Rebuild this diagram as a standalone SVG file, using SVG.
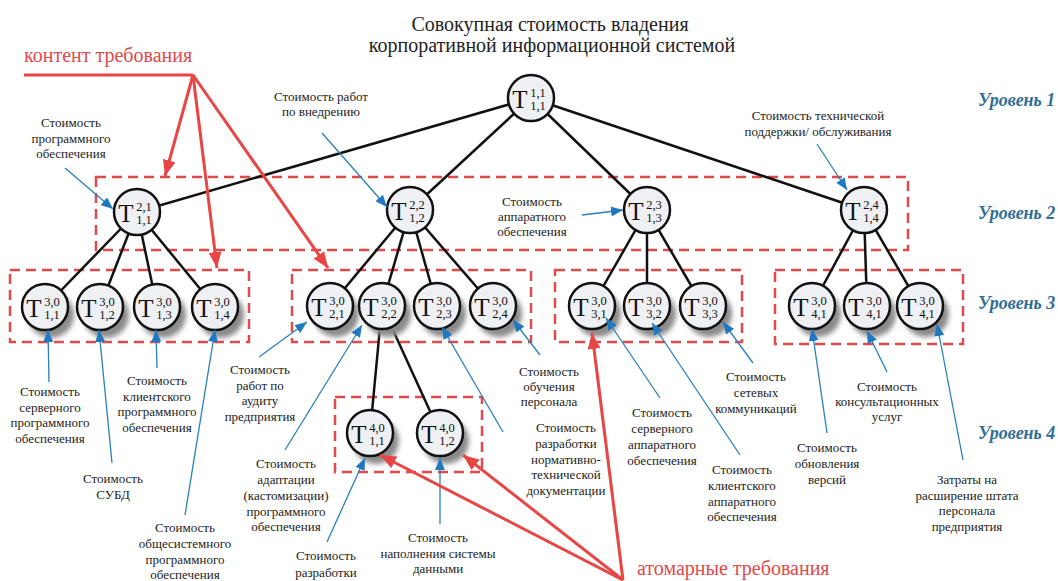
<svg xmlns="http://www.w3.org/2000/svg" width="1058" height="581" viewBox="0 0 1058 581">
  <style>
    .title { font-family: "Liberation Serif", "DejaVu Serif", serif; font-size: 20px; fill: #222; text-anchor: middle; }
    .lbl { font-family: "Liberation Serif", "DejaVu Serif", serif; font-size: 13px; fill: #222; text-anchor: middle; }
    .lvl { font-family: "Liberation Serif", "DejaVu Serif", serif; font-size: 18px; font-weight: bold; font-style: italic; fill: #2f6e98; }
    .note { font-family: "Liberation Serif", "DejaVu Serif", serif; font-size: 20px; fill: #e04a4a; }
    .node circle.c { fill: #eff0f3; stroke: #111; stroke-width: 2.5; }
    .node circle.sh { fill: #8a8a8a; filter: url(#blur); }
    .tt { font-family: "Liberation Serif", "DejaVu Serif", serif; font-size: 25px; fill: #111; text-anchor: middle; }
    .ix { font-family: "Liberation Serif", "DejaVu Serif", serif; font-size: 12.5px; fill: #111; text-anchor: middle; }
    .edge { stroke: #111; stroke-width: 2.5; fill: none; }
    .box { fill: none; stroke: #e04a4a; stroke-width: 2.5; stroke-dasharray: 10 6; }
    .blue { stroke: #2a80b9; stroke-width: 1.3; fill: none; marker-end: url(#ab); }
    .red { stroke: #e84545; stroke-width: 3; fill: none; marker-end: url(#ar); }
  </style>
  <defs>
    <filter id="blur" x="-30%" y="-30%" width="160%" height="160%">
      <feGaussianBlur stdDeviation="2.5"/>
    </filter>
    <marker id="ab" viewBox="0 0 12 10" refX="12" refY="5" markerWidth="12" markerHeight="10" markerUnits="userSpaceOnUse" orient="auto">
      <path d="M0,0 L12,5 L0,10 Z" fill="#1f78c1"/>
    </marker>
    <marker id="ar" viewBox="0 0 16 13" refX="16" refY="6.5" markerWidth="16" markerHeight="13" markerUnits="userSpaceOnUse" orient="auto">
      <path d="M0,0 L16,6.5 L0,13 Z" fill="#e84545"/>
    </marker>
  </defs>

  <rect width="1058" height="581" fill="#ffffff"/>

  <!-- title -->
  <text class="title" x="550" y="31">Совокупная стоимость владения</text>
  <text class="title" x="552" y="52">корпоративной информационной системой</text>

  <!-- level captions -->
  <text class="lvl" x="978" y="106">Уровень 1</text>
  <text class="lvl" x="978" y="219">Уровень 2</text>
  <text class="lvl" x="978" y="309">Уровень 3</text>
  <text class="lvl" x="978" y="439">Уровень 4</text>

  <!-- dashed level frames -->
  <g id="frames">
    <rect class="box" x="96" y="177" width="812" height="73"/>
    <rect class="box" x="10" y="270" width="239" height="72"/>
    <rect class="box" x="292" y="270" width="239" height="72"/>
    <rect class="box" x="555" y="270" width="187" height="72"/>
    <rect class="box" x="775" y="270" width="188" height="74"/>
    <rect class="box" x="335" y="397" width="147" height="75"/>
  </g>

  <!-- tree connectors -->
  <g id="connectors">
    <line class="edge" x1="531" y1="98" x2="137" y2="212"/>
    <line class="edge" x1="531" y1="98" x2="410" y2="210"/>
    <line class="edge" x1="531" y1="98" x2="647" y2="210"/>
    <line class="edge" x1="531" y1="98" x2="864" y2="210"/>
    <line class="edge" x1="137" y1="212" x2="45" y2="307"/>
    <line class="edge" x1="137" y1="212" x2="100" y2="307"/>
    <line class="edge" x1="137" y1="212" x2="157" y2="307"/>
    <line class="edge" x1="137" y1="212" x2="215" y2="307"/>
    <line class="edge" x1="410" y1="210" x2="330" y2="306"/>
    <line class="edge" x1="410" y1="210" x2="382" y2="306"/>
    <line class="edge" x1="410" y1="210" x2="437" y2="306"/>
    <line class="edge" x1="410" y1="210" x2="493" y2="306"/>
    <line class="edge" x1="647" y1="210" x2="592" y2="306"/>
    <line class="edge" x1="647" y1="210" x2="647" y2="306"/>
    <line class="edge" x1="647" y1="210" x2="703" y2="306"/>
    <line class="edge" x1="864" y1="210" x2="812" y2="306"/>
    <line class="edge" x1="864" y1="210" x2="867" y2="306" stroke-width="4"/>
    <line class="edge" x1="864" y1="210" x2="920" y2="306"/>
    <line class="edge" x1="382" y1="306" x2="370" y2="433"/>
    <line class="edge" x1="382" y1="306" x2="440" y2="433"/>
  </g>

  <!-- level 1 -->
  <g id="n-1-1" class="node">
    <circle class="c" cx="531" cy="98" r="23"/>
    <text class="tt" x="520" y="108">T</text>
    <text class="ix" x="538" y="97">1,1</text>
    <text class="ix" x="538" y="110">1,1</text>
  </g>

  <!-- level 2 -->
  <g id="n-2-1" class="node">
    <circle class="c" cx="137" cy="212" r="23"/>
    <text class="tt" x="126" y="222">T</text>
    <text class="ix" x="144" y="211">2,1</text>
    <text class="ix" x="144" y="224">1,1</text>
  </g>
  <g id="n-2-2" class="node">
    <circle class="c" cx="410" cy="210" r="23"/>
    <text class="tt" x="399" y="220">T</text>
    <text class="ix" x="417" y="209">2,2</text>
    <text class="ix" x="417" y="222">1,2</text>
  </g>
  <g id="n-2-3" class="node">
    <circle class="c" cx="647" cy="210" r="23"/>
    <text class="tt" x="636" y="220">T</text>
    <text class="ix" x="654" y="209">2,3</text>
    <text class="ix" x="654" y="222">1,3</text>
  </g>
  <g id="n-2-4" class="node">
    <circle class="c" cx="864" cy="210" r="23"/>
    <text class="tt" x="853" y="220">T</text>
    <text class="ix" x="871" y="209">2,4</text>
    <text class="ix" x="871" y="222">1,4</text>
  </g>

  <!-- level 3 -->
  <g id="n-3-11" class="node">
    <circle class="sh" cx="51" cy="315" r="23"/>
    <circle class="c" cx="45" cy="307" r="23"/>
    <text class="tt" x="34" y="317">T</text>
    <text class="ix" x="52" y="306">3,0</text>
    <text class="ix" x="52" y="319">1,1</text>
  </g>
  <g id="n-3-12" class="node">
    <circle class="sh" cx="106" cy="315" r="23"/>
    <circle class="c" cx="100" cy="307" r="23"/>
    <text class="tt" x="89" y="317">T</text>
    <text class="ix" x="107" y="306">3,0</text>
    <text class="ix" x="107" y="319">1,2</text>
  </g>
  <g id="n-3-13" class="node">
    <circle class="sh" cx="163" cy="315" r="23"/>
    <circle class="c" cx="157" cy="307" r="23"/>
    <text class="tt" x="146" y="317">T</text>
    <text class="ix" x="164" y="306">3,0</text>
    <text class="ix" x="164" y="319">1,3</text>
  </g>
  <g id="n-3-14" class="node">
    <circle class="sh" cx="221" cy="315" r="23"/>
    <circle class="c" cx="215" cy="307" r="23"/>
    <text class="tt" x="204" y="317">T</text>
    <text class="ix" x="222" y="306">3,0</text>
    <text class="ix" x="222" y="319">1,4</text>
  </g>
  <g id="n-3-21" class="node">
    <circle class="sh" cx="336" cy="314" r="23"/>
    <circle class="c" cx="330" cy="306" r="23"/>
    <text class="tt" x="319" y="316">T</text>
    <text class="ix" x="337" y="305">3,0</text>
    <text class="ix" x="337" y="318">2,1</text>
  </g>
  <g id="n-3-22" class="node">
    <circle class="sh" cx="388" cy="314" r="23"/>
    <circle class="c" cx="382" cy="306" r="23"/>
    <text class="tt" x="371" y="316">T</text>
    <text class="ix" x="389" y="305">3,0</text>
    <text class="ix" x="389" y="318">2,2</text>
  </g>
  <g id="n-3-23" class="node">
    <circle class="sh" cx="443" cy="314" r="23"/>
    <circle class="c" cx="437" cy="306" r="23"/>
    <text class="tt" x="426" y="316">T</text>
    <text class="ix" x="444" y="305">3,0</text>
    <text class="ix" x="444" y="318">2,3</text>
  </g>
  <g id="n-3-24" class="node">
    <circle class="sh" cx="499" cy="314" r="23"/>
    <circle class="c" cx="493" cy="306" r="23"/>
    <text class="tt" x="482" y="316">T</text>
    <text class="ix" x="500" y="305">3,0</text>
    <text class="ix" x="500" y="318">2,4</text>
  </g>
  <g id="n-3-31" class="node">
    <circle class="sh" cx="598" cy="314" r="23"/>
    <circle class="c" cx="592" cy="306" r="23"/>
    <text class="tt" x="581" y="316">T</text>
    <text class="ix" x="599" y="305">3,0</text>
    <text class="ix" x="599" y="318">3,1</text>
  </g>
  <g id="n-3-32" class="node">
    <circle class="sh" cx="653" cy="314" r="23"/>
    <circle class="c" cx="647" cy="306" r="23"/>
    <text class="tt" x="636" y="316">T</text>
    <text class="ix" x="654" y="305">3,0</text>
    <text class="ix" x="654" y="318">3,2</text>
  </g>
  <g id="n-3-33" class="node">
    <circle class="sh" cx="709" cy="314" r="23"/>
    <circle class="c" cx="703" cy="306" r="23"/>
    <text class="tt" x="692" y="316">T</text>
    <text class="ix" x="710" y="305">3,0</text>
    <text class="ix" x="710" y="318">3,3</text>
  </g>
  <g id="n-3-41a" class="node">
    <circle class="sh" cx="818" cy="314" r="23"/>
    <circle class="c" cx="812" cy="306" r="23"/>
    <text class="tt" x="801" y="316">T</text>
    <text class="ix" x="819" y="305">3,0</text>
    <text class="ix" x="819" y="318">4,1</text>
  </g>
  <g id="n-3-41b" class="node">
    <circle class="sh" cx="873" cy="314" r="23"/>
    <circle class="c" cx="867" cy="306" r="23"/>
    <text class="tt" x="856" y="316">T</text>
    <text class="ix" x="874" y="305">3,0</text>
    <text class="ix" x="874" y="318">4,1</text>
  </g>
  <g id="n-3-41c" class="node">
    <circle class="sh" cx="926" cy="314" r="23"/>
    <circle class="c" cx="920" cy="306" r="23"/>
    <text class="tt" x="909" y="316">T</text>
    <text class="ix" x="927" y="305">3,0</text>
    <text class="ix" x="927" y="318">4,1</text>
  </g>

  <!-- level 4 -->
  <g id="n-4-11" class="node">
    <circle class="sh" cx="376" cy="441" r="23"/>
    <circle class="c" cx="370" cy="433" r="23"/>
    <text class="tt" x="359" y="443">T</text>
    <text class="ix" x="377" y="432">4,0</text>
    <text class="ix" x="377" y="445">1,1</text>
  </g>
  <g id="n-4-12" class="node">
    <circle class="sh" cx="446" cy="441" r="23"/>
    <circle class="c" cx="440" cy="433" r="23"/>
    <text class="tt" x="429" y="443">T</text>
    <text class="ix" x="447" y="432">4,0</text>
    <text class="ix" x="447" y="445">1,2</text>
  </g>

  <!-- cost item captions -->
  <g id="captions">
    <text class="lbl" x="71" y="127"><tspan x="71">Стоимость</tspan><tspan x="71" dy="15.5">программного</tspan><tspan x="71" dy="15.5">обеспечения</tspan></text>
    <text class="lbl" x="321" y="101"><tspan x="321">Стоимость работ</tspan><tspan x="321" dy="15">по внедрению</tspan></text>
    <text class="lbl" x="532" y="206"><tspan x="532">Стоимость</tspan><tspan x="532" dy="15">аппаратного</tspan><tspan x="532" dy="15">обеспечения</tspan></text>
    <text class="lbl" x="818" y="120"><tspan x="818">Стоимость технической</tspan><tspan x="818" dy="16">поддержки/ обслуживания</tspan></text>
    <text class="lbl" x="50" y="396"><tspan x="50">Стоимость</tspan><tspan x="50" dy="15.5">серверного</tspan><tspan x="50" dy="15.5">программного</tspan><tspan x="50" dy="15.5">обеспечения</tspan></text>
    <text class="lbl" x="113" y="483"><tspan x="113">Стоимость</tspan><tspan x="113" dy="16">СУБД</tspan></text>
    <text class="lbl" x="157" y="385"><tspan x="157">Стоимость</tspan><tspan x="157" dy="15.5">клиентского</tspan><tspan x="157" dy="15.5">программного</tspan><tspan x="157" dy="15.5">обеспечения</tspan></text>
    <text class="lbl" x="185" y="532"><tspan x="185">Стоимость</tspan><tspan x="185" dy="16">общесистемного</tspan><tspan x="185" dy="15.5">программного</tspan><tspan x="185" dy="15.5">обеспечения</tspan></text>
    <text class="lbl" x="260" y="374"><tspan x="260">Стоимость</tspan><tspan x="260" dy="15.5">работ по</tspan><tspan x="260" dy="15.5">аудиту</tspan><tspan x="260" dy="15.5">предприятия</tspan></text>
    <text class="lbl" x="286" y="468"><tspan x="286">Стоимость</tspan><tspan x="286" dy="16">адаптации</tspan><tspan x="286" dy="16">(кастомизации)</tspan><tspan x="286" dy="15.5">программного</tspan><tspan x="286" dy="15.5">обеспечения</tspan></text>
    <text class="lbl" x="326" y="560"><tspan x="326">Стоимость</tspan><tspan x="326" dy="17">разработки</tspan></text>
    <text class="lbl" x="438" y="542"><tspan x="438">Стоимость</tspan><tspan x="438" dy="15.5">наполнения системы</tspan><tspan x="438" dy="15.5">данными</tspan></text>
    <text class="lbl" x="549" y="376"><tspan x="549">Стоимость</tspan><tspan x="549" dy="15">обучения</tspan><tspan x="549" dy="15">персонала</tspan></text>
    <text class="lbl" x="566" y="432"><tspan x="566">Стоимость</tspan><tspan x="566" dy="15.8">разработки</tspan><tspan x="566" dy="15.8">нормативно-</tspan><tspan x="566" dy="15.8">технической</tspan><tspan x="566" dy="15.8">документации</tspan></text>
    <text class="lbl" x="662" y="417"><tspan x="662">Стоимость</tspan><tspan x="662" dy="16">серверного</tspan><tspan x="662" dy="16">аппаратного</tspan><tspan x="662" dy="16">обеспечения</tspan></text>
    <text class="lbl" x="742" y="474"><tspan x="742">Стоимость</tspan><tspan x="742" dy="15.8">клиентского</tspan><tspan x="742" dy="15.8">аппаратного</tspan><tspan x="742" dy="15.8">обеспечения</tspan></text>
    <text class="lbl" x="756" y="381"><tspan x="756">Стоимость</tspan><tspan x="756" dy="16">сетевых</tspan><tspan x="756" dy="16">коммуникаций</tspan></text>
    <text class="lbl" x="827" y="452"><tspan x="827">Стоимость</tspan><tspan x="827" dy="16">обновления</tspan><tspan x="827" dy="16">версий</tspan></text>
    <text class="lbl" x="887" y="391"><tspan x="887">Стоимость</tspan><tspan x="887" dy="15">консультационных</tspan><tspan x="887" dy="15">услуг</tspan></text>
    <text class="lbl" x="967" y="484"><tspan x="967">Затраты на</tspan><tspan x="967" dy="15.7">расширение штата</tspan><tspan x="967" dy="15.7">персонала</tspan><tspan x="967" dy="15.7">предприятия</tspan></text>
  </g>

  <!-- caption pointers -->
  <g id="pointers">
    <line class="blue" x1="65" y1="168" x2="113" y2="209"/>
    <line class="blue" x1="322" y1="133" x2="387" y2="207"/>
    <line class="blue" x1="582" y1="215" x2="623" y2="210"/>
    <line class="blue" x1="817" y1="144" x2="847" y2="190"/>
    <line class="blue" x1="49" y1="382" x2="48" y2="330"/>
    <line class="blue" x1="112" y1="463" x2="99" y2="330"/>
    <line class="blue" x1="157" y1="368" x2="156" y2="330"/>
    <line class="blue" x1="185" y1="515" x2="215" y2="330"/>
    <line class="blue" x1="259" y1="357" x2="307" y2="322"/>
    <line class="blue" x1="285" y1="450" x2="362" y2="325"/>
    <line class="blue" x1="327" y1="542" x2="365" y2="458"/>
    <line class="blue" x1="440" y1="524" x2="440" y2="458"/>
    <line class="blue" x1="540" y1="355" x2="513" y2="320"/>
    <line class="blue" x1="503" y1="432" x2="442" y2="327"/>
    <line class="blue" x1="660" y1="398" x2="606" y2="318"/>
    <line class="blue" x1="740" y1="455" x2="652" y2="323"/>
    <line class="blue" x1="753" y1="363" x2="723" y2="322"/>
    <line class="blue" x1="827" y1="433" x2="812" y2="329"/>
    <line class="blue" x1="887" y1="372" x2="867" y2="331"/>
    <line class="blue" x1="963" y1="460" x2="937" y2="324"/>
  </g>

  <!-- requirement annotations -->
  <g id="content-req">
    <text class="note" x="24" y="62">контент требования</text>
    <line x1="24" y1="75" x2="193" y2="75" stroke="#e84545" stroke-width="3"/>
    <line class="red" x1="193" y1="75" x2="165" y2="176"/>
    <line class="red" x1="193" y1="75" x2="217" y2="268"/>
    <line class="red" x1="193" y1="75" x2="328" y2="268"/>
  </g>
  <g id="atomic-req">
    <text class="note" x="637" y="575">атомарные требования</text>
    <line class="red" x1="623" y1="580" x2="592" y2="333"/>
    <line class="red" x1="623" y1="580" x2="380" y2="455"/>
    <line class="red" x1="623" y1="580" x2="463" y2="455"/>
  </g>
</svg>
